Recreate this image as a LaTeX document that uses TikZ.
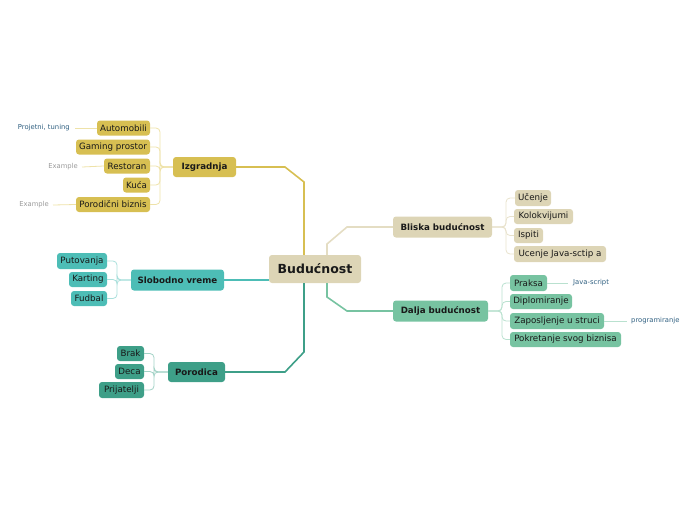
\documentclass[tikz,border=0pt]{standalone}
\usepackage{fontspec}
\setmainfont{DejaVu Sans}
\begin{document}
\begin{tikzpicture}[x=1pt,y=-1pt,
  box/.style={rounded corners=3pt, inner sep=0pt, text=black!90, font=\fontsize{8.7}{10}\selectfont},
  bbox/.style={box, font=\fontsize{8.7}{11}\selectfont\bfseries},
  note/.style={inner sep=1pt, font=\fontsize{6.8}{8}\selectfont},
  main/.style={line width=1.6pt},
  sub/.style={line width=0.8pt, rounded corners=4pt},
  nl/.style={line width=0.8pt}]
\definecolor{beigec}{HTML}{DDD5B6}
\definecolor{goldc}{HTML}{D7BF52}
\definecolor{tealc}{HTML}{4DBDB6}
\definecolor{dgreenc}{HTML}{3E9F88}
\definecolor{mintc}{HTML}{77C3A1}
\definecolor{lbeige}{HTML}{E8E2CC}
\definecolor{lgold}{HTML}{EEE2A8}
\definecolor{lteal}{HTML}{A9DFDB}
\definecolor{ldgreen}{HTML}{A2D2C6}
\definecolor{lmint}{HTML}{B9E1CF}
\definecolor{noteblue}{HTML}{2F5F80}
\definecolor{notegray}{HTML}{9A9A9A}
\useasboundingbox (0,0) rectangle (696,520);

% central
\node[box, fill=beigec, minimum width=92pt, minimum height=28pt, font=\fontsize{12.5}{14}\selectfont\bfseries] (bud) at (315,269) {Budućnost};

% main branches
\node[bbox, fill=goldc, minimum width=63pt, minimum height=20pt] (izg) at (204.5,167) {Izgradnja};
\node[bbox, fill=beigec, minimum width=99pt, minimum height=21pt] (bli) at (442.5,227) {Bliska budućnost};
\node[bbox, fill=mintc, minimum width=95pt, minimum height=21pt] (dal) at (440.5,311) {Dalja budućnost};
\node[bbox, fill=tealc, minimum width=93pt, minimum height=21pt] (slo) at (177.5,280) {Slobodno vreme};
\node[bbox, fill=dgreenc, minimum width=57pt, minimum height=20pt] (por) at (196.5,372) {Porodica};

\draw[main, goldc] ([xshift=-11pt]bud.north) -- (304,182) -- (285,167) -- (izg.east);
\draw[main, lbeige!60!beigec] ([xshift=12pt]bud.north) -- (327,244) -- (347,227) -- (bli.west);
\draw[main, mintc] ([xshift=12pt]bud.south) -- (327,297) -- (347,311) -- (dal.west);
\draw[main, tealc] (slo.east) -- (bud.west |- slo.east);
\draw[main, dgreenc] ([xshift=-11pt]bud.south) -- (304,352) -- (285,372) -- (por.east);

% Izgradnja children
\node[box, fill=goldc, minimum width=53pt, minimum height=15pt] (a1) at (123.5,128) {Automobili};
\node[box, fill=goldc, minimum width=74pt, minimum height=15pt] (a2) at (113,147) {Gaming prostor};
\node[box, fill=goldc, minimum width=46pt, minimum height=15pt] (a3) at (127,166) {Restoran};
\node[box, fill=goldc, minimum width=27pt, minimum height=15pt] (a4) at (136.5,185) {Kuća};
\node[box, fill=goldc, minimum width=74pt, minimum height=15pt] (a5) at (113,204.5) {Porodični biznis};
\foreach \c in {a1,a2,a3,a4,a5}
  \draw[sub, lgold] (izg.west) -- (160,167) |- (\c.east);

\node[note, text=noteblue, anchor=east] (n1) at (71,128) {Projetni, tuning};
\node[note, text=notegray, anchor=east] (n2) at (79,167) {Example};
\node[note, text=notegray, anchor=east] (n3) at (50,205) {Example};
\draw[nl, lgold] ([xshift=4pt]n1.east) -- (a1.west);
\draw[nl, lgold] ([xshift=3pt]n2.east) -- (a3.west);
\draw[nl, lgold] ([xshift=3pt]n3.east) -- (a5.west);

% Bliska children
\node[box, fill=beigec, minimum width=36pt, minimum height=16pt] (b1) at (533,198) {Učenje};
\node[box, fill=beigec, minimum width=59pt, minimum height=15pt] (b2) at (543.5,216.5) {Kolokvijumi};
\node[box, fill=beigec, minimum width=29pt, minimum height=15pt] (b3) at (528.5,235.5) {Ispiti};
\node[box, fill=beigec, minimum width=92pt, minimum height=16pt] (b4) at (560,254) {Ucenje Java-sctip a};
\foreach \c in {b1,b2,b3,b4}
  \draw[sub, lbeige] (bli.east) -- (506,227) |- (\c.west);

% Dalja children
\node[box, fill=mintc, minimum width=37pt, minimum height=16pt] (d1) at (528.5,283) {Praksa};
\node[box, fill=mintc, minimum width=62pt, minimum height=15pt] (d2) at (541,301.5) {Diplomiranje};
\node[box, fill=mintc, minimum width=94pt, minimum height=16pt] (d3) at (557,321) {Zaposljenje u struci};
\node[box, fill=mintc, minimum width=111pt, minimum height=15pt] (d4) at (565.5,339.5) {Pokretanje svog biznisa};
\foreach \c in {d1,d2,d3,d4}
  \draw[sub, lmint] (dal.east) -- (502,311) |- (\c.west);

\node[note, text=noteblue, anchor=west] (n4) at (572,283) {Java-script};
\node[note, text=noteblue, anchor=west] (n5) at (630,321) {programiranje};
\draw[nl, lmint] (d1.east) -- ([xshift=-4pt]n4.west);
\draw[nl, lmint] (d3.east) -- ([xshift=-3pt]n5.west);

% Slobodno children
\node[box, fill=tealc, minimum width=50pt, minimum height=16pt] (s1) at (82,261) {Putovanja};
\node[box, fill=tealc, minimum width=38pt, minimum height=15pt] (s2) at (88,279.5) {Karting};
\node[box, fill=tealc, minimum width=36pt, minimum height=15pt] (s3) at (89,298.5) {Fudbal};
\foreach \c in {s1,s2,s3}
  \draw[sub, lteal] (slo.west) -- (117,280) |- (\c.east);

% Porodica children
\node[box, fill=dgreenc, minimum width=27pt, minimum height=15pt] (p1) at (130.5,353.5) {Brak};
\node[box, fill=dgreenc, minimum width=29pt, minimum height=15pt] (p2) at (129.5,371.5) {Deca};
\node[box, fill=dgreenc, minimum width=45pt, minimum height=16pt] (p3) at (121.5,390) {Prijatelji};
\foreach \c in {p1,p2,p3}
  \draw[sub, ldgreen] (por.west) -- (154,372) |- (\c.east);
\end{tikzpicture}
\end{document}
